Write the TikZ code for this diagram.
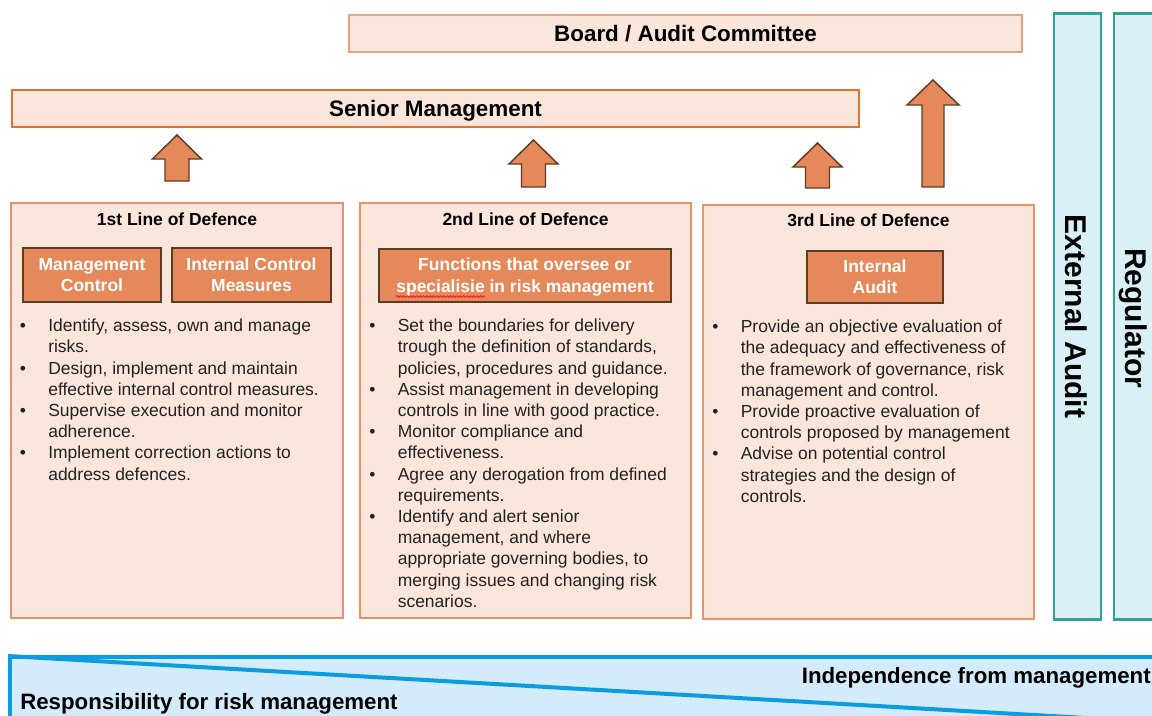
\documentclass[tikz,border=0pt]{standalone}
\usepackage{fontspec}
\setmainfont{Liberation Sans}
\usetikzlibrary{decorations.pathmorphing}
\definecolor{boxfill}{HTML}{FBE6DC}
\definecolor{boxline}{HTML}{E8926A}
\definecolor{smline}{HTML}{E2702F}
\definecolor{bdline}{HTML}{EBA283}
\definecolor{orfill}{HTML}{E5895A}
\definecolor{orline}{HTML}{5E3B24}
\definecolor{tealfill}{HTML}{D9F1F6}
\definecolor{tealline}{HTML}{2EA296}
\definecolor{bandfill}{HTML}{D3EBFA}
\definecolor{bandline}{HTML}{0B9DE0}
\definecolor{bodytext}{HTML}{222222}
\newcommand\mylst[1]{\begin{tabular}{@{}p{21.4pt}@{}l@{}}#1\end{tabular}}
\newcommand\UpArr[6]{%
\draw[uparr] (#1,#2) -- ({#1+#4},{#2+#6}) -- ({#1+#5},{#2+#6}) -- ({#1+#5},#3)
 -- ({#1-#5},#3) -- ({#1-#5},{#2+#6}) -- ({#1-#4},{#2+#6}) -- cycle;}
\begin{document}
\begin{tikzpicture}[x=0.75pt,y=-0.75pt,
  pbox/.style={draw=boxline, fill=boxfill, line width=0.9pt, inner sep=0pt},
  topbox/.style={fill=boxfill, line width=1pt, inner sep=0pt,
     font=\fontsize{16.8}{20}\selectfont\bfseries},
  subbox/.style={draw=orline, fill=orfill, line width=1.4pt, inner sep=0pt, align=center,
     text=white, font=\fontsize{13.1}{15.9}\selectfont\bfseries},
  heading/.style={inner sep=0pt, anchor=base, font=\fontsize{13.1}{15.9}\selectfont\bfseries},
  body/.style={inner sep=0pt, anchor=north west, text=bodytext,
     font=\fontsize{13.1}{15.9}\selectfont},
  tealbox/.style={draw=tealline, fill=tealfill, line width=2pt},
  vtext/.style={inner sep=0pt, rotate=-90, font=\fontsize{22.5}{26}\selectfont\bfseries},
  uparr/.style={draw=orline, fill=orfill, line width=1.1pt, line join=miter},
  bandtext/.style={inner sep=0pt, font=\fontsize{16.7}{20}\selectfont\bfseries},
  bandln/.style={draw=bandline, line width=3pt}
]
\useasboundingbox (0,0) rectangle (1152,715);

% top boxes
\node[topbox, draw=bdline, minimum width=673*0.75pt, minimum height=37*0.75pt] (board) at (685.5,33.5) {};
\node[inner sep=0pt, anchor=base, font=\fontsize{16.8}{20}\selectfont\bfseries] (boardt) at (685.5,41.5) {Board / Audit Committee};
\node[topbox, draw=smline, minimum width=847*0.75pt, minimum height=37*0.75pt] (sm) at (435.5,108.5) {};
\node[inner sep=0pt, anchor=base, font=\fontsize{16.8}{20}\selectfont\bfseries] (smt) at (435.5,116.5) {Senior Management};

% arrows
\UpArr{177}{135}{181}{24.5}{12}{24}
\UpArr{533.5}{140}{187}{24.5}{12}{24}
\UpArr{817.5}{143}{188}{24.5}{12}{24}
\UpArr{933}{80}{187}{26}{11}{25}

% defence boxes
\node[pbox, minimum width=332*0.75pt, minimum height=415*0.75pt] (d1) at (177,410.5) {};
\node[pbox, minimum width=331*0.75pt, minimum height=415*0.75pt] (d2) at (525.5,410.5) {};
\node[pbox, minimum width=331*0.75pt, minimum height=414*0.75pt] (d3) at (868.5,412) {};

\node[heading] (h1) at (177,225.3) {1st Line of Defence};
\node[heading] (h2) at (525.5,225.3) {2nd Line of Defence};
\node[heading] (h3) at (868.5,226.3) {3rd Line of Defence};

\node[subbox, minimum width=138*0.75pt, minimum height=54*0.75pt] (s1a) at (92,275) {Management\\Control};
\node[subbox, minimum width=159*0.75pt, minimum height=54*0.75pt] (s1b) at (251.5,275) {Internal Control\\Measures};
\node[subbox, minimum width=292*0.75pt, minimum height=53*0.75pt] (s2) at (525,275.5) {};
\node[inner sep=0pt, align=center, text=white, font=\fontsize{13.1}{15.9}\selectfont\bfseries] (s2t) at (525,277) {Functions that oversee or\\specialisie in risk management};
\node[subbox, minimum width=136*0.75pt, minimum height=52*0.75pt] (s3) at (875,277) {Internal\\Audit};
\coordinate (sqa) at (396,296.5);
\coordinate (sqb) at (485,296.5);
\draw[red, line width=0.5pt, decorate, decoration={snake, amplitude=0.6pt, segment length=2.5pt}] (sqa) -- (sqb);

\node[body] (l1) at (19.5,316.5) {\mylst{%
\textbullet & Identify, assess, own and manage\\
 & risks.\\
\textbullet & Design, implement and maintain\\
 & effective internal control measures.\\
\textbullet & Supervise execution and monitor\\
 & adherence.\\
\textbullet & Implement correction actions to\\
 & address defences.}};

\node[body] (l2) at (369,316.5) {\mylst{%
\textbullet & Set the boundaries for delivery\\
 & trough the definition of standards,\\
 & policies, procedures and guidance.\\
\textbullet & Assist management in developing\\
 & controls in line with good practice.\\
\textbullet & Monitor compliance and\\
 & effectiveness.\\
\textbullet & Agree any derogation from defined\\
 & requirements.\\
\textbullet & Identify and alert senior\\
 & management, and where\\
 & appropriate governing bodies, to\\
 & merging issues and changing risk\\
 & scenarios.}};

\node[body] (l3) at (712,317.5) {\mylst{%
\textbullet & Provide an objective evaluation of\\
 & the adequacy and effectiveness of\\
 & the framework of governance, risk\\
 & management and control.\\
\textbullet & Provide proactive evaluation of\\
 & controls proposed by management\\
\textbullet & Advise on potential control\\
 & strategies and the design of\\
 & controls.}};

% right vertical boxes
\node[tealbox, minimum width=47*0.75pt, minimum height=606*0.75pt, inner sep=0pt] (ea) at (1077.5,316.5) {};
\node[vtext] (eat) at (1076.5,316.5) {External Audit};
\node[tealbox, minimum width=60*0.75pt, minimum height=606*0.75pt, inner sep=0pt] (rg) at (1144,316.5) {};
\node[vtext] (rgt) at (1133,318) {Regulator};

% bottom band
\node[draw=bandline, fill=bandfill, line width=3pt, minimum width=1200*0.75pt, minimum height=100*0.75pt, inner sep=0pt, anchor=north west] (band) at (8,655) {};
\coordinate (dga) at (8,656);
\coordinate (dgb) at (1208,725);
\draw[bandln] (dga) -- (dgb);
\node[bandtext, anchor=base east] (ind) at (1151,683) {Independence from management};
\node[bandtext, anchor=base west] (resp) at (20,709.5) {Responsibility for risk management};
\end{tikzpicture}
\end{document}
